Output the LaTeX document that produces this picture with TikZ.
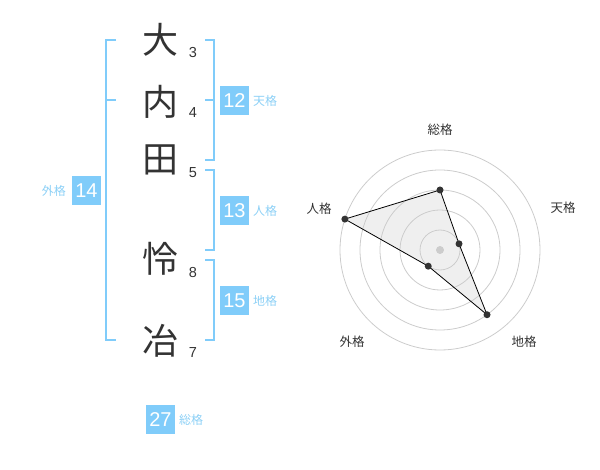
\documentclass[tikz,border=0pt]{standalone}
\usepackage{fontspec}
\usepackage{xcolor}
\usetikzlibrary{calc}
\setmainfont{Liberation Sans}
\newfontfamily\jpfont{Noto Sans CJK JP}
\definecolor{kakublue}{HTML}{80CCFA}
\definecolor{kakutext}{HTML}{8CD0F6}
\definecolor{inkgray}{HTML}{333333}
\definecolor{ringgray}{HTML}{CCCCCC}

\begin{document}
\begin{tikzpicture}[x=1pt,y=-1pt]
\tikzstyle{every node}+=[inner sep=0pt]
\tikzstyle{kanji}=[font=\jpfont\fontsize{36}{36}\selectfont, text=inkgray]
\tikzstyle{strokes}=[font=\fontsize{14.5}{14.5}\selectfont, text=inkgray]
\tikzstyle{kakubox}=[fill=kakublue, text=white, minimum size=29pt, font=\fontsize{20}{20}\selectfont]
\tikzstyle{kakuname}=[font=\jpfont\fontsize{12}{12}\selectfont, text=kakutext]
\tikzstyle{bracket}=[kakublue, line width=2pt]
\tikzstyle{axisname}=[font=\jpfont\fontsize{12.5}{12.5}\selectfont, text=inkgray]
\tikzstyle{dot}=[fill=inkgray]
\useasboundingbox (0,0) rectangle (600,470);
\draw (160,40) node[kanji] (k1) {大};
\draw (160,102) node[kanji] (k2) {内};
\draw (160,160) node[kanji] (k3) {田};
\draw (160,259) node[kanji] (k4) {怜};
\draw (160,341) node[kanji] (k5) {冶};
\draw (193,53) node[strokes] (n1) {3};
\draw (193,113) node[strokes] (n2) {4};
\draw (193,173) node[strokes] (n3) {5};
\draw (193,273) node[strokes] (n4) {8};
\draw (193,353) node[strokes] (n5) {7};
\draw [bracket] (116,40) -- (106,40) -- (106,340) -- (116,340);
\draw [bracket] (106,100) -- (116,100);
\draw [bracket] (205,40) -- (214,40) -- (214,160) -- (205,160);
\draw [bracket] (214,100) -- (205,100);
\draw [bracket] (205,170) -- (214,170) -- (214,250) -- (205,250);
\draw [bracket] (205,260) -- (214,260) -- (214,340) -- (205,340);
\draw (234.5,100.5) node[kakubox] (ten) {12};
\draw (253,101) node[kakuname, anchor=west] (tenname) {天格};
\draw (234.5,210.5) node[kakubox] (jin) {13};
\draw (253,211) node[kakuname, anchor=west] (jinname) {人格};
\draw (234.5,300.5) node[kakubox] (chi) {15};
\draw (253,301) node[kakuname, anchor=west] (chiname) {地格};
\draw (86.5,190.5) node[kakubox] (gai) {14};
\draw (66,191) node[kakuname, anchor=east] (gainame) {外格};
\draw (160.5,419.5) node[kakubox] (sou) {27};
\draw (179,420) node[kakuname, anchor=west] (souname) {総格};
\coordinate (rc) at (440,250);
\coordinate (rsou) at ($(rc)+(-90:60)$);
\coordinate (rten) at ($(rc)+(-18:20)$);
\coordinate (rchi) at ($(rc)+(54:80)$);
\coordinate (rgai) at ($(rc)+(126:20)$);
\coordinate (rjin) at ($(rc)+(198:100)$);
\fill [black!12, fill opacity=0.5] (rsou) -- (rten) -- (rchi) -- (rgai) -- (rjin) -- cycle;
\foreach \r in {20,40,60,80,100}
  \draw [ringgray, line width=0.8pt] (rc) circle (\r pt);
\fill [ringgray] (rc) circle (4pt);
\draw [black, line width=0.8pt] (rsou) -- (rten) -- (rchi) -- (rgai) -- (rjin) -- cycle;
\foreach \p in {rsou,rten,rchi,rgai,rjin}
  \fill [dot] (\p) circle (3.5pt);
\draw (440,130) node[axisname] (lsou) {総格};
\draw (563,208) node[axisname] (lten) {天格};
\draw (319,209) node[axisname] (ljin) {人格};
\draw (352,342) node[axisname] (lgai) {外格};
\draw (524,342) node[axisname] (lchi) {地格};
\end{tikzpicture}
\end{document}
